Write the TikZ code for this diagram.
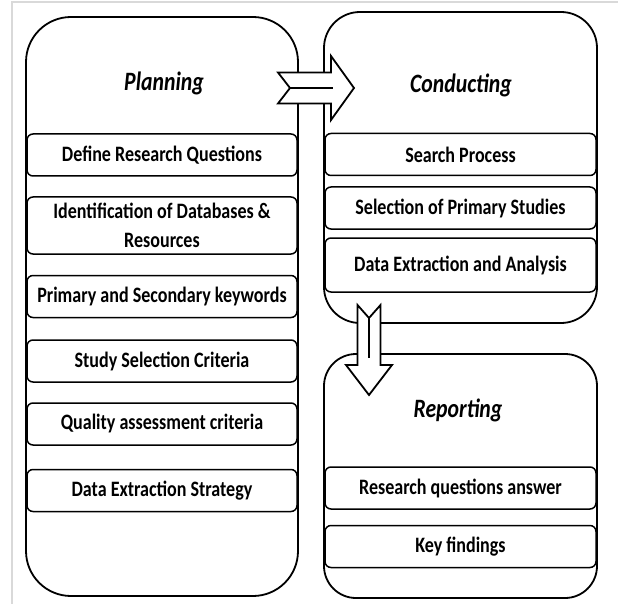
\documentclass[tikz,border=0pt]{standalone}
\usepackage{fontspec}
\setmainfont{Carlito}[FakeStretch=0.82]

\tikzset{
  stage/.style={draw, line width=1.8pt, fill=white, inner sep=0pt},
  task/.style={draw, line width=1.5pt, rounded corners=6pt, fill=white,
    minimum height=42pt, inner sep=0pt, align=center,
    font=\bfseries\fontsize{22}{29}\selectfont},
  stagetitle/.style={font=\bfseries\itshape\fontsize{26.5}{30}\selectfont},
  blockarrow/.style={draw, line width=1.8pt, fill=white, line join=miter},
}

\begin{document}
\begin{tikzpicture}[x=1pt, y=-1pt]
  \useasboundingbox[fill=white] (0,0) rectangle (618,604);
  \draw[black!15, line width=2pt] (12,604) -- (12,2) -- (618,2);
  %
  \node[stage, rounded corners=45pt, minimum width=272pt, minimum height=579pt] (planning) at (162,306.5) {};
  \node[stage, rounded corners=36pt, minimum width=273pt, minimum height=311pt] (conducting) at (460.5,167.5) {};
  \node[stage, rounded corners=32pt, minimum width=273pt, minimum height=244pt] (reporting) at (460.5,476) {};
  %
  \node[stagetitle] (plantitle) at (164,83) {Planning};
  \node[stagetitle] (condtitle) at (461,85) {Conducting};
  \node[stagetitle] (reptitle) at (458,410) {Reporting};
  %
  \node[task, minimum width=270pt] (defrq) at (162,155) {Define Research Questions};
  \node[task, minimum width=270pt, minimum height=57pt] (identdb) at (162,225.5) {Identification of Databases \&\\Resources};
  \node[task, minimum width=270pt] (keywords) at (162,296.5) {Primary and Secondary keywords};
  \node[task, minimum width=270pt] (criteria) at (162,361) {Study Selection Criteria};
  \node[task, minimum width=270pt] (quality) at (162,424) {Quality assessment criteria};
  \node[task, minimum width=270pt] (strategy) at (162,490.5) {Data Extraction Strategy};
  %
  \node[task, minimum width=271pt] (search) at (460.5,154.5) {Search Process};
  \node[task, minimum width=271pt] (selection) at (460.5,208) {Selection of Primary Studies};
  \node[task, minimum width=271pt, minimum height=54pt] (analysis) at (460.5,265) {Data Extraction and Analysis};
  %
  \node[task, minimum width=271pt] (rqanswer) at (460.5,488) {Research questions answer};
  \node[task, minimum width=271pt] (findings) at (460.5,546.5) {Key findings};
  %
  % planning -> conducting
  \draw[blockarrow] (278,72.5) -- (331,72.5) -- (331,56) -- (354,88) -- (331,120)
    -- (331,103.5) -- (278,103.5) -- (290,88) -- cycle;
  \draw[line width=1.8pt] (290,88) -- (333,88);
  % conducting -> reporting
  \draw[blockarrow] (357.5,305) -- (357.5,365) -- (346,365) -- (369,395) -- (392,365)
    -- (380.5,365) -- (380.5,305) -- (369,318) -- cycle;
  \draw[line width=1.8pt] (369,318) -- (369,358);
  %
\end{tikzpicture}
\end{document}
